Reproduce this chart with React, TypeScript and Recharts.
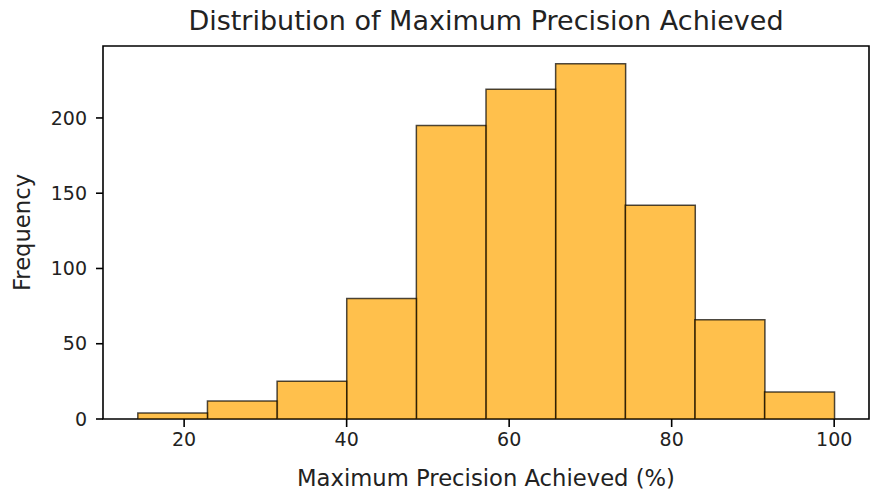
import { BarChart, Bar, XAxis, YAxis, ReferenceArea, Label } from "recharts";

// histogram bins (% precision) and counts per bin
const binEdges = [14.3, 22.9, 31.5, 40.0, 48.6, 57.2, 65.7, 74.3, 82.9, 91.4, 100];
const counts = [4, 12, 25, 80, 195, 219, 236, 142, 66, 18];
const xTicks = [20, 40, 60, 80, 100];
const yTicks = [0, 50, 100, 150, 200];

const W = 872;
const H = 495;
const margin = { top: 46, right: 3, bottom: 0, left: 0 };
const yAxisWidth = 103;
const xAxisHeight = 76;
const font = "DejaVu Sans";
const ink = "#222";

// 5% margins on both axes, like matplotlib's autoscale
const span = binEdges[binEdges.length - 1] - binEdges[0];
const xMin = binEdges[0] - span * 0.05;
const xMax = binEdges[binEdges.length - 1] + span * 0.05;
const yMax = Math.max(...counts) * 1.05;

// the band axis is padded so the bars line up with the numeric axis
const plotW = W - margin.left - margin.right - yAxisWidth;
const padL = (plotW * (binEdges[0] - xMin)) / (xMax - xMin);
const padR = (plotW * (xMax - binEdges[binEdges.length - 1])) / (xMax - xMin);

const data = counts.map((c, i) => ({
  bin: `${binEdges[i]}-${binEdges[i + 1]}`,
  mid: (binEdges[i] + binEdges[i + 1]) / 2,
  count: c,
}));

const tickStyle = { fontSize: 19, fontFamily: font, fill: ink };

function YTitle({ viewBox }: any) {
  const cx = viewBox.x + 22;
  const cy = viewBox.y + viewBox.height / 2;
  return (
    <text x={cx} y={cy} transform={`rotate(-90, ${cx}, ${cy})`} textAnchor="middle" dominantBaseline="central"
      fontSize={22.7} fontFamily={font} fill={ink}>
      Frequency
    </text>
  );
}

function XTitle({ viewBox }: any) {
  return (
    <text x={viewBox.x + viewBox.width / 2} y={H - 17} textAnchor="middle" dominantBaseline="central"
      fontSize={22.7} fontFamily={font} fill={ink}>
      Maximum Precision Achieved (%)
    </text>
  );
}

export default function App() {
  return (
    <div style={{ position: "absolute", left: 0, top: 0, width: W, height: H, background: "#fff" }}>
      <div style={{ position: "absolute", left: yAxisWidth, width: plotW, top: 7, textAlign: "center",
        fontFamily: font, fontSize: 27, lineHeight: "27px", color: ink }}>
        Distribution of Maximum Precision Achieved
      </div>
      <BarChart width={W} height={H} data={data} margin={margin} barCategoryGap={0} barGap={0}>
        <XAxis xAxisId="bins" dataKey="bin" hide height={0} padding={{ left: padL, right: padR }} />
        <XAxis xAxisId="pct" type="number" dataKey="mid" domain={[xMin, xMax]} ticks={xTicks} allowDataOverflow
          height={xAxisHeight} axisLine={false} tickSize={8} tickMargin={6} tickLine={{ stroke: "#000", strokeWidth: 1.6 }}
          tick={tickStyle}>
          <Label content={XTitle} />
        </XAxis>
        <YAxis domain={[0, yMax]} ticks={yTicks} allowDataOverflow width={yAxisWidth} axisLine={false}
          tickSize={7} tickMargin={9} tickLine={{ stroke: "#000", strokeWidth: 1.6 }} tick={tickStyle}>
          <Label content={YTitle} />
        </YAxis>
        <Bar xAxisId="bins" dataKey="count" fill="#ffa500" fillOpacity={0.7} stroke="#000" strokeOpacity={0.7}
          strokeWidth={1.5} isAnimationActive={false} />
        <ReferenceArea xAxisId="pct" x1={xMin} x2={xMax} y1={0} y2={yMax} fill="none" stroke="#000"
          strokeWidth={1.6} ifOverflow="visible" />
      </BarChart>
    </div>
  );
}
